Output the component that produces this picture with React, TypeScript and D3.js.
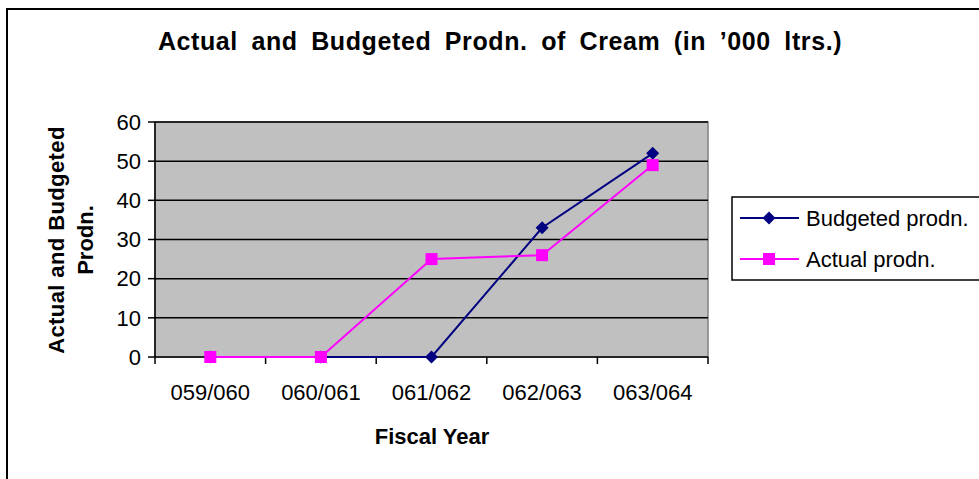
import React from "react";
import * as d3 from "d3";

const categories = ["059/060", "060/061", "061/062", "062/063", "063/064"];
const budgeted = [0, 0, 0, 33, 52];
const actual = [0, 0, 25, 26, 49];
const yTicks = [0, 10, 20, 30, 40, 50, 60];

const W = 979;
const H = 479;
const plot = { left: 155, right: 708, top: 122, bottom: 357 };
const FONT = "'Liberation Sans', Arial, sans-serif";

export default function App() {
  const x = d3
    .scaleBand<string>()
    .domain(categories)
    .range([plot.left, plot.right])
    .padding(0);
  const y = d3.scaleLinear().domain([0, 60]).range([plot.bottom, plot.top]);
  const cx = (c: string) => (x(c) as number) + x.bandwidth() / 2;

  const line = d3
    .line<number>()
    .x((_, i) => cx(categories[i]))
    .y((d) => y(d));

  const diamond = (px: number, py: number, r = 6.5) =>
    `M${px},${py - r}L${px + r},${py}L${px},${py + r}L${px - r},${py}Z`;

  const bounds = [...categories.map((c) => x(c) as number), plot.right];

  return (
    <svg
      width={W}
      height={H}
      style={{ position: "absolute", left: 0, top: 0, display: "block" }}
      fontFamily={FONT}
    >
      <rect x={0} y={0} width={W} height={H} fill="#fff" />
      {/* chart frame */}
      <rect x={7} y={9} width={W + 20} height={H + 20} fill="none" stroke="#000" strokeWidth={2} />

      <text
        x={500}
        y={50}
        textAnchor="middle"
        fontSize={25}
        fontWeight="bold"
        style={{ letterSpacing: "0.6px", wordSpacing: "6px" }}
      >
        Actual and Budgeted Prodn. of Cream (in ’000 ltrs.)
      </text>

      {/* plot area */}
      <rect
        x={plot.left}
        y={plot.top}
        width={plot.right - plot.left}
        height={plot.bottom - plot.top}
        fill="#C0C0C0"
        stroke="#808080"
        strokeWidth={1.5}
      />
      {yTicks.filter((t) => t > 0).map((t) => (
        <line key={t} x1={plot.left} x2={plot.right} y1={y(t)} y2={y(t)} stroke="#000" strokeWidth={1.5} />
      ))}

      {/* y axis */}
      <line x1={plot.left} x2={plot.left} y1={plot.top} y2={plot.bottom} stroke="#000" strokeWidth={1.5} />
      {yTicks.map((t) => (
        <g key={t}>
          <line x1={plot.left - 7} x2={plot.left} y1={y(t)} y2={y(t)} stroke="#000" strokeWidth={1.5} />
          <text x={141} y={y(t)} dy="0.35em" textAnchor="end" fontSize={22}>
            {t}
          </text>
        </g>
      ))}

      {/* x axis */}
      <line x1={plot.left} x2={plot.right} y1={plot.bottom} y2={plot.bottom} stroke="#000" strokeWidth={1.5} />
      {bounds.map((b, i) => (
        <line key={i} x1={b} x2={b} y1={plot.bottom} y2={plot.bottom + 7} stroke="#000" strokeWidth={1.5} />
      ))}
      {categories.map((c) => (
        <text key={c} x={cx(c)} y={400} textAnchor="middle" fontSize={22}>
          {c}
        </text>
      ))}

      <text x={432} y={444} textAnchor="middle" fontSize={22} fontWeight="bold">
        Fiscal Year
      </text>
      <g transform="translate(0,240) rotate(-90)">
        <text
          x={0}
          y={64}
          textAnchor="middle"
          fontSize={22}
          fontWeight="bold"
          style={{ letterSpacing: "0.4px" }}
        >
          Actual and Budgeted
        </text>
        <text x={0} y={93} textAnchor="middle" fontSize={22} fontWeight="bold">
          Prodn.
        </text>
      </g>

      {/* series */}
      <path d={line(budgeted) as string} fill="none" stroke="#000080" strokeWidth={2} />
      <path d={line(actual) as string} fill="none" stroke="#FF00FF" strokeWidth={2} />
      {budgeted.map((v, i) => (
        <path key={"b" + i} d={diamond(cx(categories[i]), y(v))} fill="#000080" />
      ))}
      {actual.map((v, i) => (
        <rect key={"a" + i} x={cx(categories[i]) - 6} y={y(v) - 6} width={12} height={12} fill="#FF00FF" />
      ))}

      {/* legend */}
      <rect x={732} y={197} width={W} height={83} fill="#fff" stroke="#000" strokeWidth={1.5} />
      <line x1={740} x2={799} y1={218} y2={218} stroke="#000080" strokeWidth={2} />
      <path d={diamond(769, 218)} fill="#000080" />
      <text x={806} y={218} dy="0.35em" fontSize={22}>
        Budgeted prodn.
      </text>
      <line x1={740} x2={799} y1={259} y2={259} stroke="#FF00FF" strokeWidth={2} />
      <rect x={763} y={253} width={12} height={12} fill="#FF00FF" />
      <text x={806} y={259} dy="0.35em" fontSize={22}>
        Actual prodn.
      </text>
    </svg>
  );
}
